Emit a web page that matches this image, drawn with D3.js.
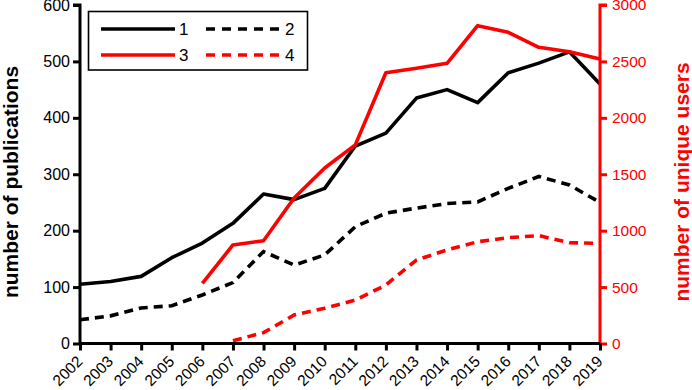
<!DOCTYPE html>
<html><head><meta charset="utf-8">
<script src="https://cdn.jsdelivr.net/npm/d3@7"></script>
<style>
body{margin:0;background:#fff;}
svg{display:block;font-family:"Liberation Sans",Arial,sans-serif;}
</style></head>
<body><svg id="c" width="692" height="390"></svg>
<script>
const years = [2002,2003,2004,2005,2006,2007,2008,2009,2010,2011,2012,2013,2014,2015,2016,2017,2018,2019];
const series1 = [105,110,119,152,178,213,265,255,275,350,373,435,450,427,480,497,517,460];
const series2 = [42,49,63,67,86,108,163,139,157,207,231,240,248,251,275,296,281,250];
const series3 = [null,null,null,null,533,873,911,1290,1555,1760,2400,2439,2483,2817,2758,2625,2586,2521];
const series4 = [null,null,null,null,null,25,96,253,312,385,518,740,829,902,938,956,893,888];
const leftTicks = [0,100,200,300,400,500,600];
const rightTicks = [0,500,1000,1500,2000,2500,3000];
const legendLabels = ["1","2","3","4"];

const svg = d3.select("#c");
const L=80, R=600, T=5, B=343.5;
const x = d3.scaleLinear().domain([2002,2019]).range([L,R]);
const yL = d3.scaleLinear().domain([0,600]).range([B,T]);
const yR = d3.scaleLinear().domain([0,3000]).range([B,T]);
const red = "#ff0000";
const FF = "Liberation Sans, Arial, sans-serif";

function line(data, yScale){
  return d3.line().defined(d=>d[1]!=null).x(d=>x(d[0])).y(d=>yScale(d[1]))(years.map((yr,i)=>[yr,data[i]]));
}
const sw = 3.6;
svg.append("path").attr("d",line(series2,yL)).attr("fill","none").attr("stroke","#000").attr("stroke-width",sw).attr("stroke-dasharray","9,6");
svg.append("path").attr("d",line(series4,yR)).attr("fill","none").attr("stroke",red).attr("stroke-width",sw).attr("stroke-dasharray","9,6");
svg.append("path").attr("d",line(series1,yL)).attr("fill","none").attr("stroke","#000").attr("stroke-width",sw).attr("stroke-linejoin","round");
svg.append("path").attr("d",line(series3,yR)).attr("fill","none").attr("stroke",red).attr("stroke-width",sw).attr("stroke-linejoin","round");

// left axis
const gl = svg.append("g").attr("transform",`translate(${L},0)`)
  .call(d3.axisLeft(yL).tickValues(leftTicks).tickSize(7).tickPadding(3).tickFormat(d3.format("d")));
gl.select(".domain").attr("stroke","#000").attr("stroke-width",3).attr("d",`M-7,${T}H0V${B}`);
gl.selectAll(".tick line").attr("stroke","#000").attr("stroke-width",3);
gl.selectAll(".tick text").attr("font-size",16).attr("fill","#000").attr("font-family",FF);

// right axis
const gr = svg.append("g").attr("transform",`translate(${R},0)`)
  .call(d3.axisRight(yR).tickValues(rightTicks).tickSize(7).tickPadding(5).tickFormat(d3.format("d")));
gr.select(".domain").attr("stroke",red).attr("stroke-width",3).attr("d",`M7,${T}H0V${B}`);
gr.selectAll(".tick line").attr("stroke",red).attr("stroke-width",3);
gr.selectAll(".tick text").attr("font-size",15.5).attr("fill",red).attr("font-family",FF);

// bottom axis
const gb = svg.append("g").attr("transform",`translate(0,${B})`)
  .call(d3.axisBottom(x).tickValues(years).tickSize(7).tickPadding(2).tickFormat(d3.format("d")));
gb.select(".domain").attr("stroke","#000").attr("stroke-width",3).attr("d",`M${L},0H${R}`);
gb.selectAll(".tick line").attr("stroke","#000").attr("stroke-width",3);
gb.selectAll(".tick text").attr("font-size",15.5).attr("fill","#000").attr("font-family",FF)
  .attr("text-anchor","end").attr("y",0).attr("dy","0").attr("transform","translate(3,19) rotate(-45)");

// axis titles
svg.append("text").attr("transform","translate(18,182) rotate(-90)").attr("text-anchor","middle")
  .attr("font-size",21).attr("font-weight","bold").attr("fill","#000").text("number of publications");
svg.append("text").attr("transform","translate(689,182) rotate(-90)").attr("text-anchor","middle")
  .attr("font-size",21).attr("font-weight","bold").attr("fill",red).text("number of unique users");

// legend
svg.append("rect").attr("x",88.5).attr("y",11.5).attr("width",219).attr("height",58.5)
  .attr("fill","#fff").attr("stroke","#000").attr("stroke-width",1.6);
const leg = [
  {lab:legendLabels[0],c:"#000",dash:null,x1:101,x2:175,y:29},
  {lab:legendLabels[1],c:"#000",dash:"9,7",x1:206,x2:281,y:29},
  {lab:legendLabels[2],c:red,dash:null,x1:101,x2:175,y:55},
  {lab:legendLabels[3],c:red,dash:"9,7",x1:206,x2:281,y:55}
];
leg.forEach(d=>{
  const l = svg.append("line").attr("x1",d.x1).attr("x2",d.x2).attr("y1",d.y).attr("y2",d.y)
    .attr("stroke",d.c).attr("stroke-width",3.6);
  if(d.dash) l.attr("stroke-dasharray",d.dash);
  svg.append("text").attr("x",d.x2+4).attr("y",d.y+6).attr("font-size",17).attr("fill","#000").attr("font-family",FF).text(d.lab);
});
</script></body></html>
